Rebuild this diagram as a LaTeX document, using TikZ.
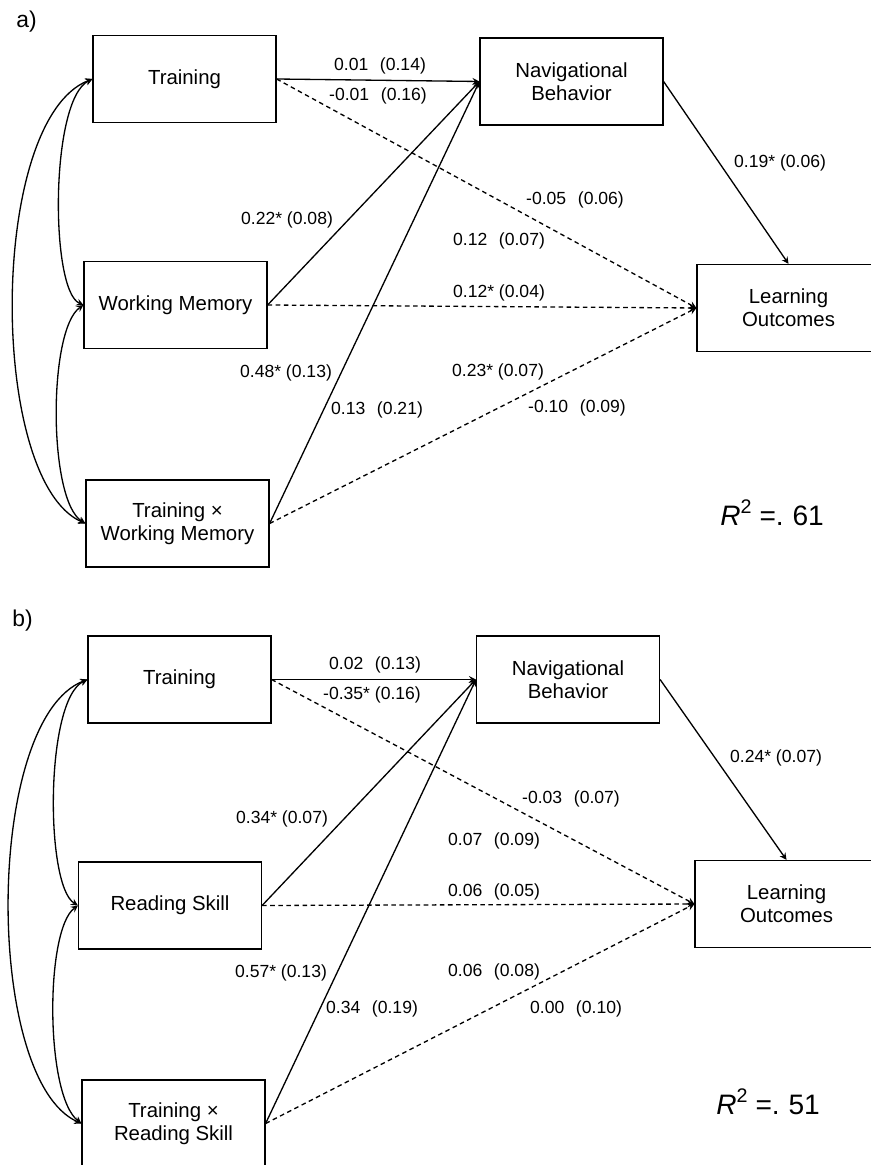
\documentclass[tikz,border=0pt]{standalone}
\usepackage{fontspec}
\setmainfont{Liberation Sans}
\tikzset{
  box/.style={draw,line width=0.7pt,minimum width=3.66cm,minimum height=1.74cm,inner sep=2pt,align=center,font=\fontsize{11.6}{13}\selectfont},
  effect/.style={->,>=stealth,line width=0.75pt},
  direct/.style={->,>=stealth,line width=0.75pt,dash pattern=on 2.6pt off 2pt},
  corr/.style={<->,>=stealth,line width=0.75pt},
  coef/.style={font=\fontsize{10}{12}\selectfont,inner sep=1pt},
  panel/.style={anchor=base west,font=\fontsize{13}{15}\selectfont,inner sep=0pt},
  fit/.style={anchor=base west,font=\fontsize{16}{18}\selectfont,inner sep=0pt}
}
\newcommand{\ns}{\phantom{*}}
\newcommand{\rsq}[1]{\textit{R}\textsuperscript{2}\hspace{4pt}=.\hspace{5pt}#1}
\begin{document}
\begin{tikzpicture}[x=0.02cm,y=-0.02cm]
        \useasboundingbox (0,0) rectangle (871,1165);
        % Panel a
        \node[panel] (tagA) at (16,28) {a)};
        % Predictors and outcomes
        \node[box] (trA) at (184.5,79) {Training};
        \node[box] (wmA) at (175.5,305) {Working Memory};
        \node[box] (txA) at (177.5,523.5) {Training ×\\Working Memory};
        \node[box] (navA) at (571.5,81.5) {Navigational\\Behavior};
        \node[box] (loA) at (788.5,308) {Learning\\Outcomes};
        % Correlations
        \draw[corr] (trA.west) .. controls (50,100) and (50,290) .. (wmA.west);
        \draw[corr] (wmA.west) .. controls (48,330) and (48,500) .. (txA.west);
        \draw[corr] (trA.west) .. controls (-12,120) and (-12,480) .. (txA.west);
        % Paths
        \draw[effect] (trA.east) -- (navA.west);
        \draw[effect] (wmA.east) -- (navA.west);
        \draw[effect] (txA.east) -- (navA.west);
        \draw[effect] (navA.east) -- (loA.north);
        \draw[direct] (trA.east) -- (loA.west);
        \draw[direct] (wmA.east) -- (loA.west);
        \draw[direct] (txA.east) -- (loA.west);
        % Coefficients
        \node[coef] (cA1) at (380,66) {0.01\ns{} (0.14)};
        \node[coef] (cA2) at (378,96) {-0.01\ns{} (0.16)};
        \node[coef] (cA3) at (287,220) {0.22* (0.08)};
        \node[coef] (cA4) at (575,200) {-0.05\ns{} (0.06)};
        \node[coef] (cA5) at (499,241) {0.12\ns{} (0.07)};
        \node[coef] (cA6) at (499,293) {0.12* (0.04)};
        \node[coef] (cA7) at (498,372) {0.23* (0.07)};
        \node[coef] (cA8) at (577,408) {-0.10\ns{} (0.09)};
        \node[coef] (cA9) at (286,373) {0.48* (0.13)};
        \node[coef] (cA10) at (377,410) {0.13\ns{} (0.21)};
        \node[coef] (cA11) at (780,163) {0.19* (0.06)};
        \node[fit] (rA) at (720,525) {\rsq{61}};
        % Panel b
        \node[panel] (tagB) at (12,626) {b)};
        % Predictors and outcomes
        \node[box] (trB) at (179.5,679.5) {Training};
        \node[box] (rsB) at (170,905.5) {Reading Skill};
        \node[box] (txB) at (173.5,1123.5) {Training ×\\Reading Skill};
        \node[box] (navB) at (568,679.5) {Navigational\\Behavior};
        \node[box] (loB) at (786.5,904) {Learning\\Outcomes};
        % Correlations
        \draw[corr] (trB.west) .. controls (45,700) and (45,885) .. (rsB.west);
        \draw[corr] (rsB.west) .. controls (45,930) and (45,1095) .. (txB.west);
        \draw[corr] (trB.west) .. controls (-16,720) and (-16,1080) .. (txB.west);
        % Paths
        \draw[effect] (trB.east) -- (navB.west);
        \draw[effect] (rsB.east) -- (navB.west);
        \draw[effect] (txB.east) -- (navB.west);
        \draw[effect] (navB.east) -- (loB.north);
        \draw[direct] (trB.east) -- (loB.west);
        \draw[direct] (rsB.east) -- (loB.west);
        \draw[direct] (txB.east) -- (loB.west);
        % Coefficients
        \node[coef] (cB1) at (375,665) {0.02\ns{} (0.13)};
        \node[coef] (cB2) at (372,695) {-0.35* (0.16)};
        \node[coef] (cB3) at (282,819) {0.34* (0.07)};
        \node[coef] (cB4) at (571,799) {-0.03\ns{} (0.07)};
        \node[coef] (cB5) at (494,841) {0.07\ns{} (0.09)};
        \node[coef] (cB6) at (494,892) {0.06\ns{} (0.05)};
        \node[coef] (cB7) at (494,972) {0.06\ns{} (0.08)};
        \node[coef] (cB8) at (576,1009) {0.00\ns{} (0.10)};
        \node[coef] (cB9) at (281,973) {0.57* (0.13)};
        \node[coef] (cB10) at (372,1009) {0.34\ns{} (0.19)};
        \node[coef] (cB11) at (776,758) {0.24* (0.07)};
        \node[fit] (rB) at (716,1114) {\rsq{51}};
\end{tikzpicture}
\end{document}
